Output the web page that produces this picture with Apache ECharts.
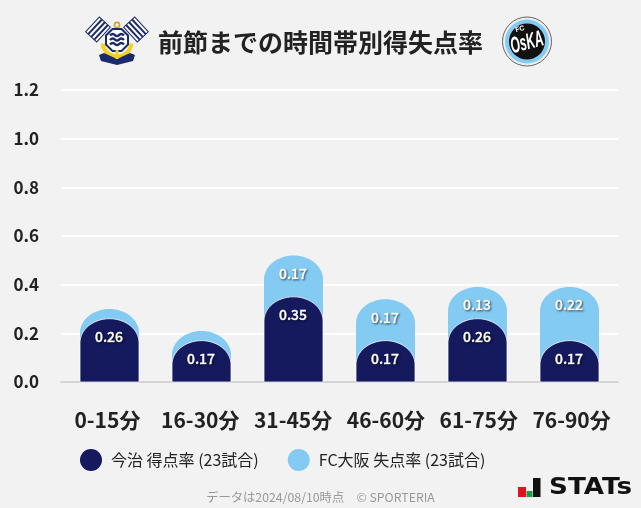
<!DOCTYPE html>
<html>
<head>
<meta charset="utf-8">
<title>前節までの時間帯別得失点率</title>
<script src="https://cdn.jsdelivr.net/npm/echarts@6/dist/echarts.min.js"></script>
<style>
    html, body { margin: 0; padding: 0; background: #f2f2f2; }
    #chart { width: 641px; height: 508px; }
</style>
</head>
<body>
<div id="chart"></div>
<script>
    const categories = ['0-15分', '16-30分', '31-45分', '46-60分', '61-75分', '76-90分'];
    const goalRate = [0.26, 0.17, 0.35, 0.17, 0.26, 0.17];
    const concededRate = [0.04, 0.04, 0.17, 0.17, 0.13, 0.22];
    // 表示しない小さい値は 0.1 未満
    const labelMin = 0.1;
    const yTicks = [0, 0.2, 0.4, 0.6, 0.8, 1.0, 1.2];
    const goalName = '今治 得点率 (23試合)';
    const concededName = 'FC大阪 失点率 (23試合)';

    const NAVY = '#151a5f';
    const SKY = '#84cbf4';
    const FONT = '"Noto Sans CJK JP", "Noto Sans", sans-serif';

    const chart = echarts.init(document.getElementById('chart'), null, { renderer: 'canvas' });

    // 上が楕円の棒
    function domeBar(api, idx, value, labelValue, color, stroke) {
        const bottom = api.coord([idx, 0]);
        const top = api.coord([idx, value]);
        const w = 59, rx = 29.5, ry = 24, k = 0.5523;
        const l = bottom[0] - w / 2, r = bottom[0] + w / 2, t = top[1], b = bottom[1];
        const d = 'M' + l + ' ' + b + 'L' + l + ' ' + (t + ry)
            + 'C' + l + ' ' + (t + ry - ry * k) + ' ' + (l + rx - rx * k) + ' ' + t + ' ' + (l + rx) + ' ' + t
            + 'C' + (l + rx + rx * k) + ' ' + t + ' ' + r + ' ' + (t + ry - ry * k) + ' ' + r + ' ' + (t + ry)
            + 'L' + r + ' ' + b + 'Z';
        const children = [{
            type: 'path',
            shape: { pathData: d },
            style: { fill: color, stroke: stroke, lineWidth: 1 }
        }];
        if (labelValue >= labelMin) {
            children.push({
                type: 'text',
                style: {
                    text: labelValue.toFixed(2), x: bottom[0] - 0.5, y: t + 18,
                    align: 'center', verticalAlign: 'middle',
                    fill: '#fff', font: '500 14px ' + FONT,
                    stroke: '#fff', lineWidth: 0.4,
                    textShadowColor: 'rgba(0,0,0,0.55)', textShadowBlur: 2, textShadowOffsetX: 1, textShadowOffsetY: 1
                }
            });
        }
        return { type: 'group', children: children };
    }

    // 今治のエンブレム（簡略）
    function flag(cx, cy, rot) {
        const kids = [{ type: 'rect', shape: { x: -10, y: -7.5, width: 20, height: 15 }, style: { fill: '#fff', stroke: '#1b2a6b', lineWidth: 1 } }];
        [-5, -0.9, 3.2].forEach(function (y) {
            kids.push({ type: 'rect', shape: { x: -10, y: y, width: 20, height: 2 }, style: { fill: '#1b2a6b' } });
        });
        return { type: 'group', x: cx, y: cy, rotation: rot, children: kids };
    }
    function wave(y) {
        return { type: 'polyline', shape: { smooth: 0.5, points: [[110, y], [113, y - 1.5], [117, y + 0.5], [121, y - 1.5], [124, y]] }, style: { stroke: '#1b2a6b', lineWidth: 2.4, fill: null } };
    }
    const imabari = [
        flag(98, 29.5, 0.82),
        flag(136, 29.5, -0.82),
        { type: 'ring', shape: { cx: 117, cy: 25, r: 3.4, r0: 1.8 }, style: { fill: '#c9a92c' } },
        { type: 'arc', shape: { cx: 117, cy: 42, r: 14.5, startAngle: 0.1, endAngle: Math.PI - 0.1 }, style: { stroke: '#f2d21f', lineWidth: 4, fill: null } },
        { type: 'polygon', shape: { points: [[112.5, 29], [121.5, 29], [128, 35.5], [128, 44.5], [121.5, 51], [112.5, 51], [106, 44.5], [106, 35.5]] }, style: { fill: '#fff', stroke: '#1b2a6b', lineWidth: 2 } },
        wave(35.5), wave(40), wave(44.5),
        { type: 'polygon', shape: { points: [[99, 55], [104, 53], [117, 59], [130, 53], [135, 55], [133, 61], [117, 65], [101, 61]] }, style: { fill: '#1b2a6b' } },
        { type: 'rect', shape: { x: 115.5, y: 50, width: 3, height: 9 }, style: { fill: '#f2d21f' } }
    ];

    // FC大阪のエンブレム（簡略）
    const fcOsaka = [
        { type: 'circle', shape: { cx: 527, cy: 41.5, r: 24.5 }, style: { fill: '#eee', stroke: '#666', lineWidth: 1 } },
        { type: 'circle', shape: { cx: 527, cy: 41.5, r: 22 }, style: { fill: '#84cbf4' } },
        { type: 'circle', shape: { cx: 527, cy: 41.5, r: 18 }, style: { fill: '#111' } },
        { type: 'text', x: 527, y: 43, rotation: 0.25, scaleX: 0.8, scaleY: 1.5, style: { text: 'OsKA', align: 'center', verticalAlign: 'middle', fill: '#fff', font: 'italic bold 15px "Liberation Sans"' } },
        { type: 'text', x: 520, y: 29, rotation: 0.25, style: { text: 'FC', align: 'center', verticalAlign: 'middle', fill: '#fff', font: 'bold 7px "Liberation Sans"' } }
    ];

    // STATs ロゴ
    const statsLogo = [
        { type: 'rect', shape: { x: 518, y: 487, width: 8, height: 10 }, style: { fill: '#e0141e' } },
        { type: 'rect', shape: { x: 526.5, y: 491, width: 6, height: 6 }, style: { fill: '#17a04a' } },
        { type: 'rect', shape: { x: 533, y: 478, width: 7.5, height: 19 }, style: { fill: '#111' } },
        { type: 'text', x: 549, y: 488, scaleX: 1.14, style: { text: 'STATs', verticalAlign: 'middle', fill: '#111', font: 'bold 23px "DejaVu Sans"' } }
    ];

    chart.setOption({
        backgroundColor: '#f2f2f2',
        animation: false,
        title: {
            text: '前節までの時間帯別得失点率',
            left: 315.5, top: 19, textAlign: 'center',
            textStyle: { fontFamily: FONT, fontSize: 25, fontWeight: 'bold', color: '#222', lineHeight: 36 }
        },
        legend: {
            data: [
                { name: goalName, icon: 'circle' },
                { name: concededName, icon: 'circle' }
            ],
            left: 75, top: 444, itemWidth: 22, itemHeight: 22, itemGap: 29,
            textStyle: { fontFamily: FONT, fontSize: 16, color: '#222', padding: [0, 0, 0, 4] }
        },
        // 線とラベル用のグリッドと棒用のグリッドを分ける
        grid: [
            { left: 61, right: 23, top: 90, height: 292 },
            { left: 63.5, right: 25.5, top: 90, height: 292 }
        ],
        xAxis: [
            {
                gridIndex: 0, type: 'category', data: categories,
                axisLine: { show: true, onZero: false, lineStyle: { color: '#d4d4d4', width: 2 } },
                axisTick: { show: false },
                axisLabel: { margin: 28, fontFamily: FONT, fontSize: 21, fontWeight: 'bold', color: '#222', interval: 0 },
                splitLine: { show: false }
            },
            {
                gridIndex: 1, type: 'category', data: categories,
                axisLine: { show: false }, axisTick: { show: false }, axisLabel: { show: false }
            }
        ],
        yAxis: [
            {
                gridIndex: 0, type: 'value', min: 0, max: 1.2, interval: 0.2,
                axisLine: { show: false }, axisTick: { show: false },
                axisLabel: {
                    margin: 22, verticalAlign: 'middle', lineHeight: 19, fontFamily: FONT, fontSize: 17, fontWeight: 'bold', color: '#222',
                    formatter: function (v) { return v.toFixed(1); }
                },
                splitLine: { show: true, lineStyle: { color: '#fff', width: 2 } }
            },
            {
                gridIndex: 1, type: 'value', min: yTicks[0], max: yTicks[yTicks.length - 1], interval: 0.2,
                axisLine: { show: false }, axisTick: { show: false }, axisLabel: { show: false }, splitLine: { show: false }
            }
        ],
        series: [
            {
                name: concededName, type: 'custom', xAxisIndex: 1, yAxisIndex: 1, z: 2,
                itemStyle: { color: SKY },
                data: categories.map(function (c, i) { return [i, goalRate[i] + concededRate[i], concededRate[i]]; }),
                renderItem: function (params, api) {
                    return domeBar(api, api.value(0), api.value(1), api.value(2), SKY, 'rgba(255,255,255,0)');
                }
            },
            {
                name: goalName, type: 'custom', xAxisIndex: 1, yAxisIndex: 1, z: 3,
                itemStyle: { color: NAVY },
                data: categories.map(function (c, i) { return [i, goalRate[i]]; }),
                renderItem: function (params, api) {
                    return domeBar(api, api.value(0), api.value(1), api.value(1), NAVY, 'rgba(255,255,255,0.75)');
                }
            }
        ],
        graphic: [
            { type: 'text', x: 320.5, y: 497, style: { text: 'データは2024/08/10時点　© SPORTERIA', align: 'center', verticalAlign: 'middle', fill: '#999', font: '12.3px ' + FONT } }
        ].concat(imabari, fcOsaka, statsLogo)
    });
</script>
</body>
</html>
